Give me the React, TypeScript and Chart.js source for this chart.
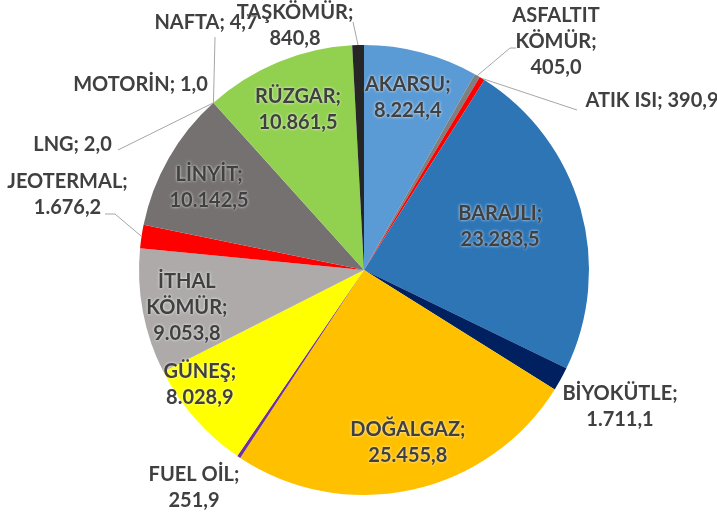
import React, { useEffect, useRef } from "react";
import { Chart, registerables } from "chart.js";

Chart.register(...registerables);

// ---- data ----
const categories = [
  "AKARSU",
  "ASFALTIT KÖMÜR",
  "ATIK ISI",
  "BARAJLI",
  "BİYOKÜTLE",
  "DOĞALGAZ",
  "FUEL OİL",
  "GÜNEŞ",
  "İTHAL KÖMÜR",
  "JEOTERMAL",
  "LİNYİT",
  "LNG",
  "MOTORİN",
  "NAFTA",
  "RÜZGAR",
  "TAŞKÖMÜR",
];
const values = [
  8224.4, 405.0, 390.9, 23283.5, 1711.1, 25455.8, 251.9, 8028.9, 9053.8,
  1676.2, 10142.5, 2.0, 1.0, 4.7, 10861.5, 840.8,
];
const colors = [
  "#5B9BD5", "#7F7F7F", "#FF0000", "#2E75B6", "#002060", "#FFC000",
  "#7030A0", "#FFFF00", "#AEAAAA", "#FF0000", "#767171", "#D9D9D9",
  "#D9D9D9", "#D9D9D9", "#92D050", "#262626",
];
// how each category name is broken into lines on the chart
const nameLines = [
  ["AKARSU;"],
  ["ASFALTIT", "KÖMÜR;"],
  ["ATIK ISI;"],
  ["BARAJLI;"],
  ["BİYOKÜTLE;"],
  ["DOĞALGAZ;"],
  ["FUEL OİL;"],
  ["GÜNEŞ;"],
  ["İTHAL", "KÖMÜR;"],
  ["JEOTERMAL;"],
  ["LİNYİT;"],
  ["LNG;"],
  ["MOTORİN;"],
  ["NAFTA;"],
  ["RÜZGAR;"],
  ["TAŞKÖMÜR;"],
];

// ---- label layout (positions relative to the pie centre) ----
type Lay = {
  inside?: boolean;
  r?: number;
  da?: number;
  dx?: number;
  dy?: number;
  single?: boolean;
  leader?: number[][];
};
const labelLayout: Lay[] = [
  { inside: true, r: 0.79, da: -0.5 },
  { dx: 192, dy: -228.5, leader: [[146, -222], [152, -222]] },
  { dx: 288, dy: -169, single: true, leader: [[213, -160]] },
  { inside: true, r: 0.635, da: -1.8 },
  { dx: 256, dy: 136.5 },
  { inside: true, r: 0.79, da: -2 },
  { dx: -170, dy: 217.5 },
  { inside: true, r: 0.89, da: 6.4 },
  { inside: true, r: 0.805, da: -1.4 },
  { dx: -296.5, dy: -75, leader: [[-249, -56], [-259, -56]] },
  { inside: true, r: 0.78, da: -1.8 },
  { dx: -291.5, dy: -125, single: true, leader: [[-246, -120]] },
  { dx: -223.5, dy: -185, single: true },
  { dx: -158, dy: -247, single: true, leader: [[-149, -233]] },
  { inside: true, r: 0.773, da: 0.2 },
  { dx: -69, dy: -244, leader: [[-11, -248]] },
];

function fmt(v: number): string {
  const [i, d] = v.toFixed(1).split(".");
  return i.replace(/\B(?=(\d{3})+(?!\d))/g, ".") + "," + d;
}

const FONT = "bold 20px Lato";
const LINE_H = 26;

const labelPlugin = {
  id: "sliceLabels",
  afterDatasetsDraw(chart: any) {
    const meta = chart.getDatasetMeta(0);
    const ctx: CanvasRenderingContext2D = chart.ctx;
    ctx.save();
    // leader lines
    meta.data.forEach((arc: any, i: number) => {
      const lay = labelLayout[i];
      if (!lay.leader) return;
      const p = arc.getProps(["x", "y", "startAngle", "endAngle", "outerRadius"], true);
      const mid = (p.startAngle + p.endAngle) / 2;
      ctx.beginPath();
      ctx.strokeStyle = "#A6A6A6";
      ctx.lineWidth = 1;
      ctx.moveTo(p.x + Math.cos(mid) * p.outerRadius, p.y + Math.sin(mid) * p.outerRadius);
      lay.leader.forEach((pt) => ctx.lineTo(p.x + pt[0], p.y + pt[1]));
      ctx.stroke();
    });
    // texts
    ctx.font = FONT;
    ctx.fillStyle = "#404040";
    ctx.textAlign = "center";
    ctx.textBaseline = "middle";
    ctx.shadowColor = "rgba(255,255,255,0.9)";
    ctx.shadowBlur = 3;
    meta.data.forEach((arc: any, i: number) => {
      const lay = labelLayout[i];
      const p = arc.getProps(["x", "y", "startAngle", "endAngle", "outerRadius"], true);
      let cx: number, cy: number;
      if (lay.inside) {
        const mid = (p.startAngle + p.endAngle) / 2 + ((lay.da || 0) * Math.PI) / 180;
        cx = p.x + Math.cos(mid) * p.outerRadius * (lay.r || 0.75);
        cy = p.y + Math.sin(mid) * p.outerRadius * (lay.r || 0.75);
      } else {
        cx = p.x + (lay.dx || 0);
        cy = p.y + (lay.dy || 0);
      }
      const names = nameLines[i];
      let lines: string[];
      if (lay.single) {
        lines = [names.join(" ") + " " + fmt(values[i])];
      } else {
        lines = [...names, fmt(values[i])];
      }
      const top = cy - ((lines.length - 1) * LINE_H) / 2;
      lines.forEach((t, k) => ctx.fillText(t, cx, top + k * LINE_H));
    });
    ctx.restore();
  },
};

export default function App() {
  const ref = useRef<HTMLCanvasElement | null>(null);
  useEffect(() => {
    if (!ref.current) return;
    const chart = new Chart(ref.current, {
      type: "pie",
      data: {
        labels: categories,
        datasets: [
          {
            data: values,
            backgroundColor: colors,
            borderWidth: 0,
          },
        ],
      },
      options: {
        animation: false,
        responsive: true,
        maintainAspectRatio: false,
        layout: { padding: { left: 11, right: 0, top: 45, bottom: 25 } },
        plugins: {
          legend: { display: false },
          tooltip: { enabled: false },
        },
      },
      plugins: [labelPlugin],
    });
    return () => chart.destroy();
  }, []);
  return (
    <div style={{ width: 717, height: 520, position: "absolute", left: 0, top: 0 }}>
      <canvas ref={ref} />
    </div>
  );
}
